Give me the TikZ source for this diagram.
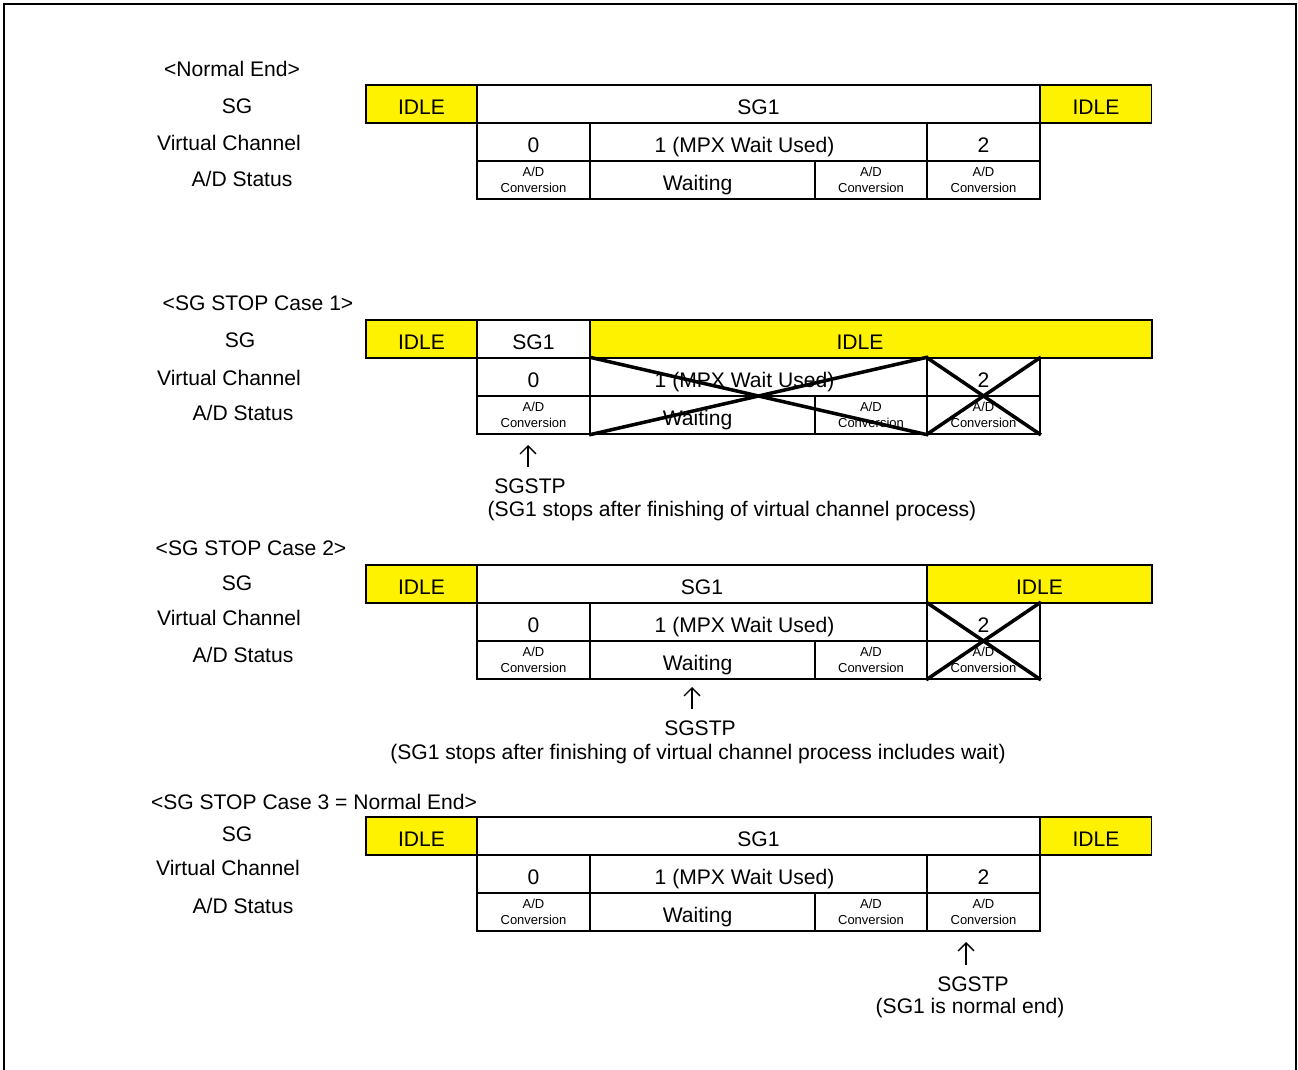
\documentclass[tikz,border=0pt]{standalone}
\usepackage{fontspec}
\setmainfont{Liberation Sans}
\usepackage{tikz}
\usetikzlibrary{arrows.meta}

\begin{document}
\begin{tikzpicture}[
        x=0.02cm, y=-0.02cm,
        cell/.style={
            draw,
            rectangle,
            line width=1pt,
            minimum height=0.76cm,
            inner sep=0pt,
            text height=11.5pt,
            text depth=0pt,
            font=\fontsize{12}{13}\selectfont
        },
        idle/.style={
            cell,
            fill=yellow
        },
        small/.style={
            draw,
            rectangle,
            line width=1pt,
            minimum height=0.76cm,
            inner sep=0pt,
            align=center,
            font=\fontsize{7.4}{9}\selectfont
        },
        label/.style={
            inner sep=0pt,
            font=\fontsize{12}{13}\selectfont
        },
        stop/.style={
            label,
            inner sep=6.5pt
        },
        cross/.style={
            line width=2pt
        },
        arrow/.style={
            -{Straight Barb[length=4.5pt,width=9pt]},
            line width=0.8pt
        }
    ]
    \useasboundingbox (0,0) rectangle (1298,1070);
    \draw[line width=1.4pt] (4,1080) -- (4,4) -- (1296,4) -- (1296,1080);

    % Normal End
    \node[label] (neTitle) at (232,69) {<Normal End>};
    \node[label] (neSgL) at (237,106) {SG};
    \node[label] (neChL) at (229,143) {Virtual Channel};
    \node[label] (neAdL) at (242,179) {A/D Status};
    \node[idle, minimum width=2.22cm] (neIdleA) at (421.5,104) {IDLE};
    \node[cell, minimum width=11.26cm] (neSg) at (758.5,104) {SG1};
    \node[idle, minimum width=2.22cm] (neIdleB) at (1096,104) {IDLE};
    \node[cell, minimum width=2.26cm] (neCh0) at (533.5,142) {0};
    \node[cell, minimum width=6.74cm] (neCh1) at (758.5,142) {1 (MPX Wait Used)\kern0.56cm};
    \node[cell, minimum width=2.26cm] (neCh2) at (983.5,142) {2};
    \node[small, minimum width=2.26cm] (neAd0) at (533.5,180) {A/D\\Conversion};
    \node[cell, minimum width=4.5cm] (neWait) at (702.5,180) {Waiting\kern0.2cm};
    \node[small, minimum width=2.24cm] (neAd1) at (871,180) {A/D\\Conversion};
    \node[small, minimum width=2.26cm] (neAd2) at (983.5,180) {A/D\\Conversion};

    % SG STOP Case 1
    \node[label] (aTitle) at (258,303) {<SG STOP Case 1>};
    \node[label] (aSgL) at (240,340) {SG};
    \node[label] (aChL) at (229,378) {Virtual Channel};
    \node[label] (aAdL) at (243,413) {A/D Status};
    \node[idle, minimum width=2.22cm] (aIdleA) at (421.5,339) {IDLE};
    \node[cell, minimum width=2.26cm] (aSg) at (533.5,339) {SG1};
    \node[idle, minimum width=11.24cm] (aIdleB) at (871,339) {IDLE\kern0.44cm};
    \node[cell, minimum width=2.26cm] (aCh0) at (533.5,377) {0};
    \node[cell, minimum width=6.74cm] (aCh1) at (758.5,377) {1 (MPX Wait Used)\kern0.56cm};
    \node[cell, minimum width=2.26cm] (aCh2) at (983.5,377) {2};
    \node[small, minimum width=2.26cm] (aAd0) at (533.5,415) {A/D\\Conversion};
    \node[cell, minimum width=4.5cm] (aWait) at (702.5,415) {Waiting\kern0.2cm};
    \node[small, minimum width=2.24cm] (aAd1) at (871,415) {A/D\\Conversion};
    \node[small, minimum width=2.26cm] (aAd2) at (983.5,415) {A/D\\Conversion};
    \draw[cross] (aCh1.north west) -- (aAd1.south east);
    \draw[cross] (aWait.south west) -- (aCh1.north east);
    \draw[cross] (aCh2.north west) -- (aAd2.south east);
    \draw[cross] (aAd2.south west) -- (aCh2.north east);
    \node[stop] (aStop) at (530,486) {SGSTP};
    \coordinate (aTip) at (528,445);
    \draw[arrow] (aStop.north -| aTip) -- (aTip);
    \node[label] (aNote) at (732,511) {(SG1 stops after finishing of virtual channel process)};

    % SG STOP Case 2
    \node[label] (bTitle) at (251,548) {<SG STOP Case 2>};
    \node[label] (bSgL) at (237,583) {SG};
    \node[label] (bChL) at (229,618) {Virtual Channel};
    \node[label] (bAdL) at (243,655) {A/D Status};
    \node[idle, minimum width=2.22cm] (bIdleA) at (421.5,584) {IDLE};
    \node[cell, minimum width=9cm] (bSg) at (702,584) {SG1};
    \node[idle, minimum width=4.5cm] (bIdleB) at (1039.5,584) {IDLE};
    \node[cell, minimum width=2.26cm] (bCh0) at (533.5,622) {0};
    \node[cell, minimum width=6.74cm] (bCh1) at (758.5,622) {1 (MPX Wait Used)\kern0.56cm};
    \node[cell, minimum width=2.26cm] (bCh2) at (983.5,622) {2};
    \node[small, minimum width=2.26cm] (bAd0) at (533.5,660) {A/D\\Conversion};
    \node[cell, minimum width=4.5cm] (bWait) at (702.5,660) {Waiting\kern0.2cm};
    \node[small, minimum width=2.24cm] (bAd1) at (871,660) {A/D\\Conversion};
    \node[small, minimum width=2.26cm] (bAd2) at (983.5,660) {A/D\\Conversion};
    \draw[cross] (bCh2.north west) -- (bAd2.south east);
    \draw[cross] (bAd2.south west) -- (bCh2.north east);
    \node[stop] (bStop) at (700,728) {SGSTP};
    \coordinate (bTip) at (692,687);
    \draw[arrow] (bStop.north -| bTip) -- (bTip);
    \node[label] (bNote) at (698,754) {(SG1 stops after finishing of virtual channel process includes wait)};

    % SG STOP Case 3 = Normal End
    \node[label] (cTitle) at (314,802) {<SG STOP Case 3 = Normal End>};
    \node[label] (cSgL) at (237,834) {SG};
    \node[label] (cChL) at (228,868) {Virtual Channel};
    \node[label] (cAdL) at (243,906) {A/D Status};
    \node[idle, minimum width=2.22cm] (cIdleA) at (421.5,836) {IDLE};
    \node[cell, minimum width=11.26cm] (cSg) at (758.5,836) {SG1};
    \node[idle, minimum width=2.22cm] (cIdleB) at (1096,836) {IDLE};
    \node[cell, minimum width=2.26cm] (cCh0) at (533.5,874) {0};
    \node[cell, minimum width=6.74cm] (cCh1) at (758.5,874) {1 (MPX Wait Used)\kern0.56cm};
    \node[cell, minimum width=2.26cm] (cCh2) at (983.5,874) {2};
    \node[small, minimum width=2.26cm] (cAd0) at (533.5,912) {A/D\\Conversion};
    \node[cell, minimum width=4.5cm] (cWait) at (702.5,912) {Waiting\kern0.2cm};
    \node[small, minimum width=2.24cm] (cAd1) at (871,912) {A/D\\Conversion};
    \node[small, minimum width=2.26cm] (cAd2) at (983.5,912) {A/D\\Conversion};
    \node[stop] (cStop) at (973,984) {SGSTP};
    \coordinate (cTip) at (966,942);
    \draw[arrow] (cStop.north -| cTip) -- (cTip);
    \node[label] (cNote) at (970,1008) {(SG1 is normal end)};

\end{tikzpicture}
\end{document}
